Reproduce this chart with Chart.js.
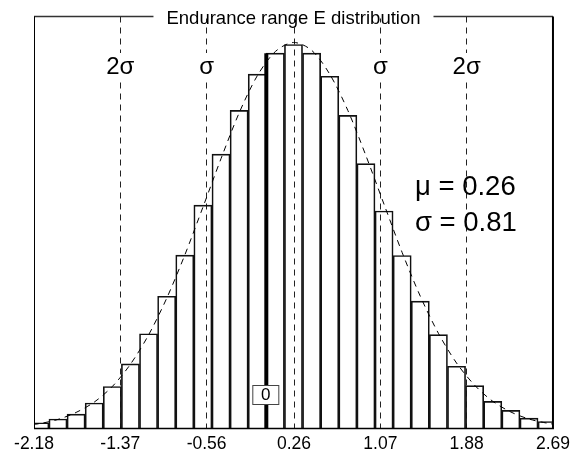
<!DOCTYPE html>
<html>
<head>
<meta charset="utf-8">
<script src="https://cdn.jsdelivr.net/npm/chart.js@4/dist/chart.umd.min.js"></script>
<style>
	body { margin: 0; background: #fff; }
	canvas { display: block; }
</style>
</head>
<body>
<canvas id="canvas" width="575" height="457"></canvas>
<script>
const title = 'Endurance range E distribution';

// bin centres (bin width 0.17) and bar heights (% of plot height)
const binCenters = [-2.125, -1.955, -1.785, -1.615, -1.445, -1.275, -1.105, -0.935, -0.765, -0.595,
	-0.425, -0.255, -0.085, 0.085, 0.255, 0.425, 0.595, 0.765, 0.935, 1.105,
	1.275, 1.445, 1.615, 1.785, 1.955, 2.125, 2.295, 2.465, 2.635];
const barHeights = [1.4, 2.3, 3.5, 6.2, 10.2, 15.7, 23.0, 32.1, 42.1, 54.2,
	66.6, 77.2, 86.0, 91.1, 93.2, 91.1, 85.5, 76.0, 64.3, 52.8,
	42.0, 30.9, 22.8, 15.1, 10.4, 6.6, 4.4, 2.5, 1.7];

// fitted normal curve
const curveX = [-2.295, -2.125, -1.955, -1.785, -1.615, -1.445, -1.275, -1.105, -0.935, -0.765, -0.595,
	-0.425, -0.255, -0.085, 0.085, 0.255, 0.425, 0.595, 0.765, 0.935, 1.105,
	1.275, 1.445, 1.615, 1.785, 1.955, 2.125, 2.295, 2.465, 2.635, 2.805];
const curveY = [0.65, 1.2, 2.2, 3.9, 6.4, 10.2, 15.6, 22.7, 31.6, 42.1, 53.7,
	65.5, 76.6, 85.6, 91.5, 93.7, 91.8, 86.0, 77.2, 66.2, 54.4,
	42.7, 32.1, 23.1, 15.9, 10.5, 6.6, 4.0, 2.3, 1.3, 0.67];

const zeroLineX = [0, 0];
const zeroLineY = [0, 91.1];

const tickValues = [-2.18, -1.37, -0.56, 0.26, 1.07, 1.88, 2.69];
const sigmaValues = [-1.37, -0.56, 1.07, 1.88];
const sigmaLabels = ['2σ', 'σ', 'σ', '2σ'];
const statLines = ['μ = 0.26', 'σ = 0.81'];

const FONT = 'Liberation Sans';

const framePlugin = {
	id: 'frame',
	afterDatasetsDraw(chart) {
		const ctx = chart.ctx;
		const a = chart.chartArea;
		const xs = chart.scales.x;
		ctx.save();

		// sigma labels on the dashed lines
		ctx.font = '24px "' + FONT + '"';
		ctx.textAlign = 'center';
		ctx.textBaseline = 'alphabetic';
		for (let i = 0; i < sigmaValues.length; i++) {
			const px = xs.getPixelForValue(sigmaValues[i]);
			const w = ctx.measureText(sigmaLabels[i]).width;
			ctx.fillStyle = '#fff';
			ctx.fillRect(px - w / 2 - 3, 53, w + 6, 26);
			ctx.fillStyle = '#000';
			ctx.fillText(sigmaLabels[i], px, 74);
		}

		// mu / sigma text
		ctx.font = '27.5px "' + FONT + '"';
		ctx.textAlign = 'left';
		ctx.fillText(statLines[0], 415, 195);
		ctx.fillText(statLines[1], 415, 231);

		// "0" marker box
		const zx = xs.getPixelForValue(0);
		ctx.fillStyle = '#fff';
		ctx.fillRect(zx - 14, 385, 27, 20);
		ctx.strokeStyle = '#444';
		ctx.lineWidth = 1;
		ctx.strokeRect(zx - 13.5, 385.5, 26, 19);
		ctx.fillStyle = '#000';
		ctx.font = '17px "' + FONT + '"';
		ctx.textAlign = 'center';
		ctx.textBaseline = 'middle';
		ctx.fillText('0', zx - 0.5, 395.5);

		// frame
		ctx.strokeStyle = '#333';
		ctx.lineWidth = 1.5;
		ctx.beginPath();
		ctx.moveTo(a.left, a.top);
		ctx.lineTo(a.right, a.top);
		ctx.stroke();
		ctx.strokeStyle = '#000';
		ctx.lineWidth = 1;
		ctx.beginPath();
		ctx.moveTo(a.left + 0.5, a.top);
		ctx.lineTo(a.left + 0.5, a.bottom);
		ctx.stroke();
		ctx.lineWidth = 2;
		ctx.beginPath();
		ctx.moveTo(a.right, a.top);
		ctx.lineTo(a.right, a.bottom);
		ctx.stroke();
		ctx.lineWidth = 1.5;
		ctx.beginPath();
		ctx.moveTo(a.left, a.bottom);
		ctx.lineTo(a.right + 1, a.bottom);
		ctx.stroke();

		// title sitting on the top border
		ctx.font = '18.5px "' + FONT + '"';
		const tw = ctx.measureText(title).width;
		const cx = (a.left + a.right) / 2;
		ctx.fillStyle = '#fff';
		ctx.fillRect(cx - tw / 2 - 13, a.top - 3, tw + 26, 5);
		ctx.fillStyle = '#000';
		ctx.textAlign = 'center';
		ctx.textBaseline = 'alphabetic';
		ctx.fillText(title, cx, 24);
		ctx.restore();
	},
};

const bars = binCenters.map((x, i) => ({ x: x, y: barHeights[i] }));
const curve = curveX.map((x, i) => ({ x: x, y: curveY[i] }));
const zeroLine = zeroLineX.map((x, i) => ({ x: x, y: zeroLineY[i] }));

const chart = new Chart(document.getElementById('canvas'), {
	type: 'bar',
	data: {
		datasets: [
			{
				type: 'line',
				data: zeroLine,
				borderColor: '#000',
				borderWidth: 4,
				pointRadius: 0,
				order: 1,
			},
			{
				type: 'line',
				data: curve,
				borderColor: '#000',
				borderWidth: 1,
				borderDash: [6, 5],
				pointRadius: 0,
				tension: 0.3,
				order: 2,
			},
			{
				data: bars,
				backgroundColor: 'rgba(255,255,255,0)',
				borderColor: '#111',
				borderWidth: 1,
				borderSkipped: 'bottom',
				barPercentage: 1,
				categoryPercentage: 1,
				order: 3,
			},
		],
	},
	options: {
		responsive: false,
		animation: false,
		layout: { padding: { left: 34, right: 20, top: 16.5, bottom: 0 } },
		plugins: { legend: { display: false }, tooltip: { enabled: false }, title: { display: false } },
		scales: {
			x: {
				type: 'linear',
				offset: false,
				min: -2.18,
				max: 2.69,
				afterBuildTicks: (scale) => {
					scale.ticks = tickValues.map((v) => ({ value: v }));
				},
				afterFit: (scale) => {
					scale.height = 28.5;
				},
				ticks: {
					autoSkip: false,
					maxRotation: 0,
					padding: 5,
					color: '#000',
					font: { family: FONT, size: 17.5 },
					callback: (v) => Number(v).toFixed(2),
				},
				grid: {
					offset: false,
					drawTicks: false,
					lineWidth: 1,
					color: (c) => (c.tick && (c.tick.value === -2.18 || c.tick.value === 2.69) ? 'rgba(0,0,0,0)' : '#222'),
				},
				border: { display: false, dash: [6, 5] },
			},
			y: {
				display: false,
				min: 0,
				max: 100,
			},
		},
	},
	plugins: [framePlugin],
});
</script>
</body>
</html>
